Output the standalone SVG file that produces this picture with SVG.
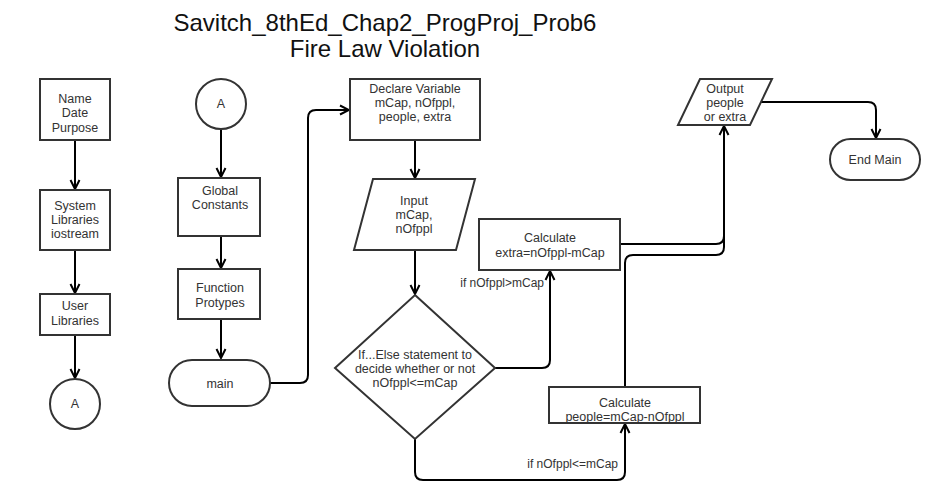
<svg xmlns="http://www.w3.org/2000/svg" width="946" height="504" viewBox="0 0 946 504">
<defs>
<marker id="arr" viewBox="0 0 12 12" refX="11" refY="6" markerWidth="12" markerHeight="12" markerUnits="userSpaceOnUse" orient="auto">
<path d="M2,1.5 L11,6 L2,10.5" fill="none" stroke="#000" stroke-width="2"/>
</marker>
<style>
.s{fill:#fff;stroke:#333;stroke-width:2}
.t{font-family:"Liberation Sans",Arial,sans-serif;font-size:12.5px;fill:#333;text-anchor:middle}
.l{font-family:"Liberation Sans",Arial,sans-serif;font-size:12px;fill:#333;text-anchor:end}
.c{fill:none;stroke:#000;stroke-width:2;marker-end:url(#arr)}
.cn{fill:none;stroke:#000;stroke-width:2}
.ti{font-family:"Liberation Sans",Arial,sans-serif;font-size:24px;fill:#111;text-anchor:middle}
</style>
</defs>
<rect width="946" height="504" fill="#fff"/>
<g id="title">
<text class="ti" x="385" y="31">Savitch_8thEd_Chap2_ProgProj_Prob6</text>
<text class="ti" x="385" y="57">Fire Law Violation</text>
</g>
<g id="connectors">
<path class="c" d="M75,140 V189"/>
<path class="c" d="M75,250 V293"/>
<path class="c" d="M75,335 V378"/>
<path class="c" d="M221,129 V177"/>
<path class="c" d="M221,236 V268"/>
<path class="c" d="M221,319 V358"/>
<path class="c" d="M270,383 H300 Q308,383 308,375 V118 Q308,110 316,110 H349"/>
<path class="c" d="M415,140 V178"/>
<path class="c" d="M415,250 V294"/>
<path class="c" d="M495,368 H542 Q550,368 550,360 V271"/>
<path class="c" d="M415,439 V472 Q415,480 423,480 H617 Q625,480 625,472 V424"/>
<path class="cn" d="M620,244 H716 Q724,244 724,236"/>
<path class="cn" d="M625,387 V263 Q625,255 633,255 H716 Q724,255 724,247"/>
<path class="c" d="M724,247 V126"/>
<path class="c" d="M760,102 H868 Q876,102 876,110 V138"/>
</g>
<g id="label-gt">
<text class="l" x="544" y="287">if nOfppl&gt;mCap</text>
</g>
<g id="label-le">
<text class="l" x="618" y="468">if nOfppl&lt;=mCap</text>
</g>
<g id="n1">
<rect class="s" x="40" y="79" width="70" height="61"/>
<text class="t" x="75" y="103">Name</text>
<text class="t" x="75" y="117">Date</text>
<text class="t" x="75" y="132">Purpose</text>
</g>
<g id="n2">
<rect class="s" x="40" y="190" width="70" height="60"/>
<text class="t" x="75" y="210">System</text>
<text class="t" x="75" y="224">Libraries</text>
<text class="t" x="75" y="238">iostream</text>
</g>
<g id="n3">
<rect class="s" x="40" y="294" width="70" height="41"/>
<text class="t" x="75" y="310">User</text>
<text class="t" x="75" y="325">Libraries</text>
</g>
<g id="n4">
<circle class="s" cx="75" cy="404" r="25"/>
<text class="t" x="75" y="408">A</text>
</g>
<g id="n5">
<circle class="s" cx="221" cy="104" r="25"/>
<text class="t" x="221" y="108">A</text>
</g>
<g id="n6">
<rect class="s" x="178" y="178" width="82" height="58"/>
<text class="t" x="220" y="195">Global</text>
<text class="t" x="220" y="209">Constants</text>
</g>
<g id="n7">
<rect class="s" x="178" y="269" width="82" height="50"/>
<text class="t" x="220" y="292">Function</text>
<text class="t" x="220" y="307">Protypes</text>
</g>
<g id="n8">
<rect class="s" x="169" y="360" width="101" height="46" rx="23"/>
<text class="t" x="220" y="388">main</text>
</g>
<g id="n9">
<rect class="s" x="350" y="79" width="130" height="61"/>
<text class="t" x="415" y="93">Declare Variable</text>
<text class="t" x="415" y="107">mCap, nOfppl,</text>
<text class="t" x="415" y="121">people, extra</text>
</g>
<g id="n10">
<polygon class="s" points="373,179 475,179 456,250 354,250"/>
<text class="t" x="414" y="205">Input</text>
<text class="t" x="414" y="219">mCap,</text>
<text class="t" x="414" y="233">nOfppl</text>
</g>
<g id="n11">
<polygon class="s" points="415,295 495,368 415,439 335,368"/>
<text class="t" x="415" y="359">If...Else statement to</text>
<text class="t" x="415" y="373">decide whether or not</text>
<text class="t" x="415" y="387">nOfppl&lt;=mCap</text>
</g>
<g id="n12">
<rect class="s" x="479" y="219" width="141" height="51"/>
<text class="t" x="550" y="242">Calculate</text>
<text class="t" x="550" y="257">extra=nOfppl-mCap</text>
</g>
<g id="n13">
<rect class="s" x="549" y="387" width="151" height="36"/>
<text class="t" x="625" y="407">Calculate</text>
<text class="t" x="625" y="421">people=mCap-nOfppl</text>
</g>
<g id="n14">
<polygon class="s" points="700,79 772,79 750,125 678,125"/>
<text class="t" x="725" y="93">Output</text>
<text class="t" x="725" y="107">people</text>
<text class="t" x="725" y="121">or extra</text>
</g>
<g id="n15">
<rect class="s" x="830" y="139" width="90" height="41" rx="20.5"/>
<text class="t" x="875" y="164">End Main</text>
</g>
</svg>
